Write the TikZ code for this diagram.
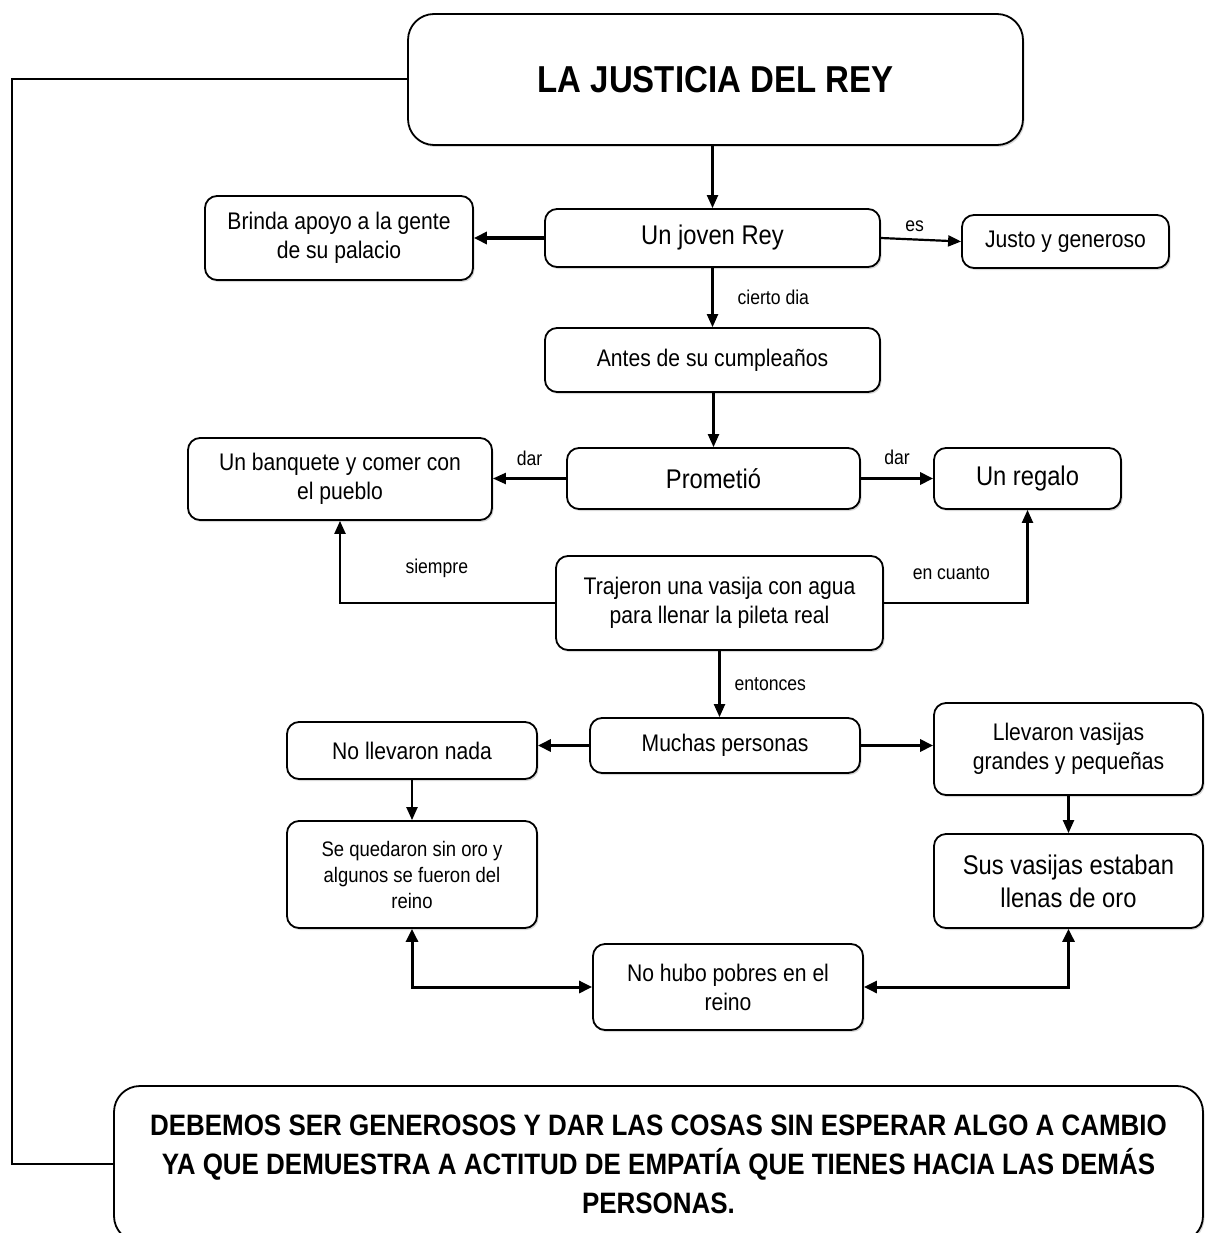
\documentclass[tikz,border=0pt]{standalone}
\usepackage{fontspec}
\setmainfont{Liberation Sans}[FakeStretch=0.88]
\usetikzlibrary{arrows.meta, positioning, calc, shadows}

\tikzset{
  box/.style={draw, line width=1.8pt, rounded corners=12pt, fill=white,
    align=center, inner sep=0pt,
    drop shadow={shadow xshift=1.5pt, shadow yshift=-2pt, opacity=0.3}},
  bigtxt/.style={font=\fontsize{27}{33}\selectfont},
  midtxt/.style={font=\fontsize{24}{29}\selectfont},
  smalltxt/.style={font=\fontsize{21}{26}\selectfont},
  lbl/.style={font=\fontsize{20}{24}\selectfont, inner sep=0pt},
  link/.style={line width=2.2pt, -{Triangle[length=13pt, width=11pt]}},
  boldlink/.style={line width=3.6pt, -{Triangle[length=13pt, width=12pt]}},
  duallink/.style={line width=3pt, {Triangle[length=13pt, width=12pt]}-{Triangle[length=13pt, width=12pt]}}
}

\begin{document}
\begin{tikzpicture}[x=1pt, y=-1pt]

\useasboundingbox (0,0) rectangle (1210,1233);

% Title
\node[box, rounded corners=26pt, minimum width=615pt, minimum height=131pt,
  font=\fontsize{37.5}{44}\selectfont\bfseries] (title) at (715.5,79.5) {LA JUSTICIA DEL REY};

% First level
\node[box, midtxt, minimum width=268pt, minimum height=84pt] (apoyo) at (339,238) {Brinda apoyo a la gente\\de su palacio};
\node[box, bigtxt, minimum width=335pt, minimum height=58pt] (rey) at (712.5,238) {Un joven Rey};
\node[box, midtxt, minimum width=207pt, minimum height=53pt] (justo) at (1065.5,241.5) {Justo y generoso};
\node[box, midtxt, minimum width=335pt, minimum height=64pt] (antes) at (712.5,360) {Antes de su cumplea\~nos};

% Promise
\node[box, midtxt, minimum width=304pt, minimum height=82pt] (banquete) at (340,479) {Un banquete y comer con\\el pueblo};
\node[box, bigtxt, minimum width=293pt, minimum height=61pt] (prometio) at (713.5,478.5) {Prometi\'o};
\node[box, bigtxt, minimum width=187pt, minimum height=61pt] (regalo) at (1027.5,478.5) {Un regalo};
\node[box, midtxt, minimum width=327pt, minimum height=94pt] (vasija) at (719.5,603) {Trajeron una vasija con agua\\para llenar la pileta real};

% People
\node[box, midtxt, minimum width=270pt, minimum height=55pt] (personas) at (725,745.5) {Muchas personas};
\node[box, midtxt, minimum width=250pt, minimum height=57pt] (nada) at (412,750.5) {No llevaron nada};
\node[box, midtxt, minimum width=269pt, minimum height=92pt] (llevaron) at (1068.5,749) {Llevaron vasijas\\grandes y peque\~nas};
\node[box, smalltxt, minimum width=250pt, minimum height=107pt] (sinoro) at (412,874.5) {Se quedaron sin oro y\\algunos se fueron del\\reino};
\node[box, bigtxt, minimum width=269pt, minimum height=94pt] (llenas) at (1068.5,881) {Sus vasijas estaban\\llenas de oro};
\node[box, midtxt, minimum width=270pt, minimum height=86pt] (pobres) at (728,987) {No hubo pobres en el\\reino};

% Moral
\node[box, rounded corners=26pt, minimum width=1089pt, minimum height=156pt,
  font=\fontsize{29.5}{39}\selectfont\bfseries] (moral) at (658.5,1164)
  {DEBEMOS SER GENEROSOS Y DAR LAS COSAS SIN ESPERAR ALGO A CAMBIO\\YA QUE DEMUESTRA A ACTITUD DE EMPAT\'IA QUE TIENES HACIA LAS DEM\'AS\\PERSONAS.};

% Connectors
\draw[link] (rey.north |- title.south) -- (rey.north);
\draw[boldlink] (rey.west) -- (apoyo.east |- rey.west);
\draw[link] (rey.east) -- (justo.west) node[lbl, pos=0.42, above=7pt] (es) {es};
\draw[link] (rey.south) -- (antes.north) node[lbl, midway, right=24pt] (dia) {cierto dia};
\draw[link] (prometio.north |- antes.south) -- (prometio.north);
\draw[link] (prometio.west) -- (banquete.east |- prometio.west) node[lbl, midway, above=12pt] (dar1) {dar};
\draw[boldlink] (prometio.east) -- (regalo.west) node[lbl, midway, above=12pt] (dar2) {dar};
\draw[link] (vasija.west) -| (banquete.south) node[lbl, pos=0.275, above=24pt] (siempre) {siempre};
\draw[link] (vasija.east) -| (regalo.south) node[lbl, pos=0.235, above=22pt] (cuanto) {en cuanto};
\draw[link] (vasija.south) -- (vasija.south |- personas.north) node[lbl, midway, right=14pt] (entonces) {entonces};
\draw[boldlink] (personas.west) -- (nada.east |- personas.west);
\draw[boldlink] (personas.east) -- (llevaron.west |- personas.east);
\draw[link] (nada.south) -- (sinoro.north);
\draw[link] (llevaron.south) -- (llenas.north);
\draw[duallink] (sinoro.south) |- (pobres.west);
\draw[duallink] (llenas.south) |- (pobres.east);

% Left rail from title to moral
\coordinate (rail) at (12,0);
\draw[line width=2pt] (title.west) -- (title.west -| rail) |- (moral.west);

\end{tikzpicture}
\end{document}
